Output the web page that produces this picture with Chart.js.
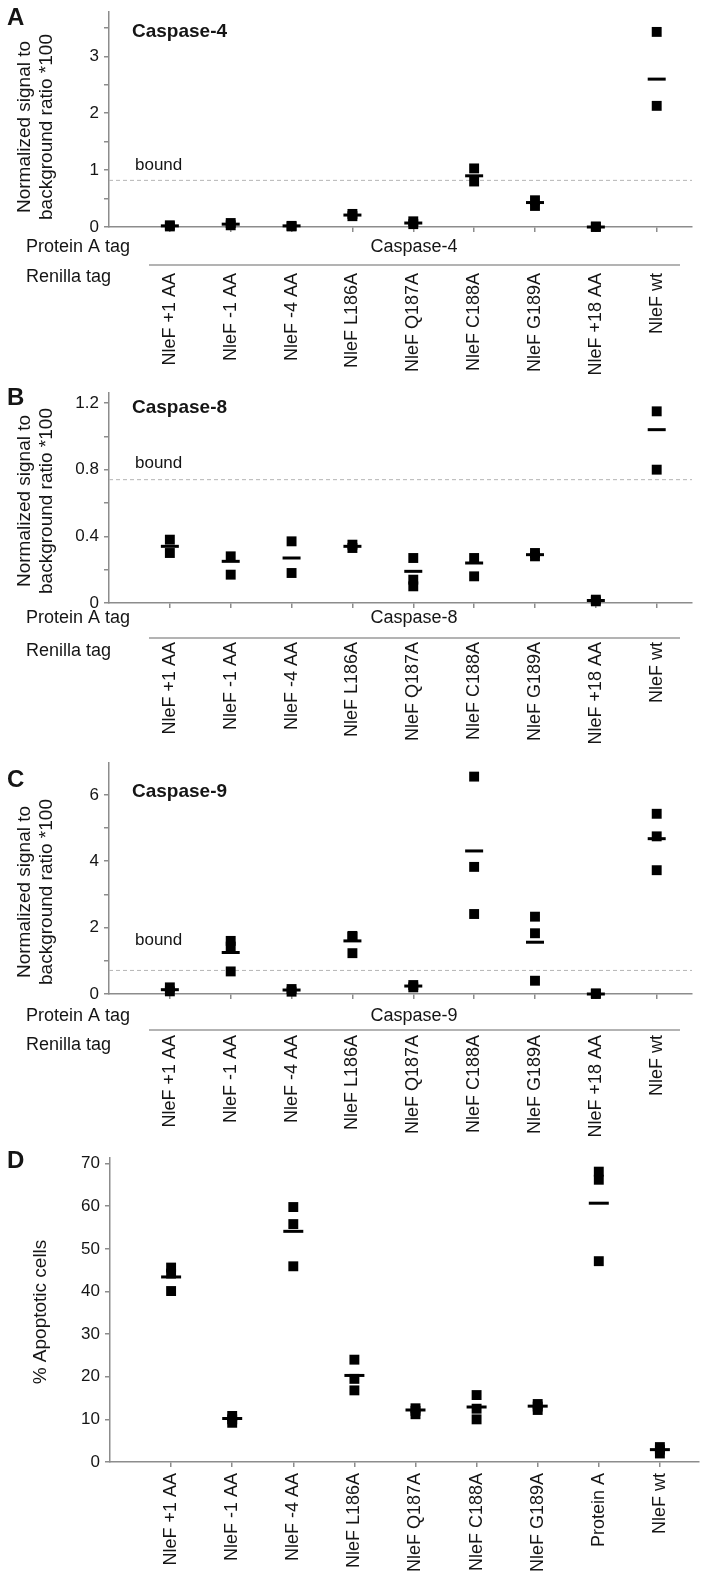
<!DOCTYPE html>
<html>
<head>
<meta charset="utf-8">
<script src="https://cdn.jsdelivr.net/npm/chart.js@4.4.1/dist/chart.umd.min.js"></script>
<style>
  html, body { margin: 0; padding: 0; background: #fff; }
  #wrap { position: relative; width: 712px; height: 1580px; }
  canvas { position: absolute; left: 0; }
</style>
</head>
<body>
<div id="wrap">
  <canvas id="panelA" width="712" height="380" style="top:0px"></canvas>
  <canvas id="panelB" width="712" height="370" style="top:380px"></canvas>
  <canvas id="panelC" width="712" height="395" style="top:750px"></canvas>
  <canvas id="panelD" width="712" height="435" style="top:1145px"></canvas>
</div>
<script>
const FONT = "'Liberation Sans', Arial, sans-serif";
const AXIS_GREY = "#8c8c8c";
const INK = "#151515";

const renillaLabels = ["NleF +1 AA", "NleF -1 AA", "NleF -4 AA", "NleF L186A", "NleF Q187A",
  "NleF C188A", "NleF G189A", "NleF +18 AA", "NleF wt"];
const apoptosisLabels = ["NleF +1 AA", "NleF -1 AA", "NleF -4 AA", "NleF L186A", "NleF Q187A",
  "NleF C188A", "NleF G189A", "Protein A", "NleF wt"];

// A - caspase-4
const casp4Rep1 = [0.03, 0.07, 0.02, 0.23, 0.10, 1.03, 0.47, 0.01, 3.43];
const casp4Rep2 = [0.01, 0.03, 0.01, 0.19, 0.05, 0.80, 0.37, 0.00, 2.13];
const casp4Mean = [0.02, 0.05, 0.02, 0.21, 0.07, 0.90, 0.43, 0.00, 2.60];
const casp4Bound = 0.82;
const casp4Ticks = [0, 0.5, 1, 1.5, 2, 2.5, 3, 3.5];
const casp4TickLabels = ["0", "", "1", "", "2", "", "3", ""];

// B - caspase-8
const casp8Rep1 = [0.38, 0.28, 0.37, 0.35, 0.27, 0.27, 0.30, 0.02, 1.15];
const casp8Rep2 = [0.30, 0.17, 0.18, 0.33, 0.14, 0.16, 0.28, 0.01, 0.80];
const casp8Rep3 = [null, null, null, null, 0.10, null, null, null, null];
const casp8Mean = [0.34, 0.25, 0.27, 0.34, 0.19, 0.24, 0.29, 0.015, 1.04];
const casp8Bound = 0.74;
const casp8Ticks = [0, 0.2, 0.4, 0.6, 0.8, 1.0, 1.2];
const casp8TickLabels = ["0", "", "0.4", "", "0.8", "", "1.2"];

// C - caspase-9
const casp9Rep1 = [0.20, 1.60, 0.15, 1.75, 0.27, 6.55, 2.33, 0.02, 5.43];
const casp9Rep2 = [0.08, 1.43, 0.07, 1.72, 0.20, 3.83, 1.83, 0.00, 4.75];
const casp9Rep3 = [null, 0.68, null, 1.23, null, 2.41, 0.40, null, 3.73];
const casp9Mean = [0.13, 1.25, 0.12, 1.60, 0.24, 4.31, 1.56, 0.00, 4.68];
const casp9Bound = 0.71;
const casp9Ticks = [0, 1, 2, 3, 4, 5, 6];
const casp9TickLabels = ["0", "", "2", "", "4", "", "6"];

// D - apoptosis
const apopRep1 = [45.6, 10.8, 59.8, 24.0, 12.6, 15.7, 13.6, 68.1, 3.5];
const apopRep2 = [44.2, 10.0, 55.8, 19.5, 12.0, 12.5, 13.0, 66.2, 2.9];
const apopRep3 = [40.1, 9.2, 45.9, 16.8, 11.2, 10.0, 12.2, 47.1, 2.0];
const apopMean = [43.4, 10.2, 54.1, 20.3, 12.2, 12.9, 13.1, 60.7, 2.9];
const apopTicks = [0, 10, 20, 30, 40, 50, 60, 70];
const apopTickLabels = ["0", "10", "20", "30", "40", "50", "60", "70"];

Chart.defaults.font.family = FONT;
Chart.defaults.color = INK;

function toPoints(values) {
  const pts = [];
  values.forEach((v, i) => { if (v !== null) pts.push({ x: i + 1, y: v }); });
  return pts;
}

// letters, titles, axis title and the tag rows
const panelText = {
  id: "panelText",
  afterDraw(chart, args, o) {
    const ctx = chart.ctx;
    const ca = chart.chartArea;
    ctx.save();
    ctx.fillStyle = INK;
    ctx.textBaseline = "alphabetic";
    ctx.textAlign = "left";
    ctx.font = "bold 24px " + FONT;
    ctx.fillText(o.letter, 7, o.letterY);
    if (o.title) {
      ctx.font = "bold 19px " + FONT;
      ctx.fillText(o.title, 132, o.titleY);
    }
    if (o.boundY) {
      ctx.font = "17px " + FONT;
      ctx.fillText("bound", 135, o.boundY);
    }
    // rotated y title
    ctx.font = "19px " + FONT;
    ctx.textAlign = "center";
    o.yTitle.forEach((line, i) => {
      ctx.save();
      ctx.translate(o.yTitleX[i], o.yTitleY);
      ctx.rotate(-Math.PI / 2);
      ctx.fillText(line, 0, 0);
      ctx.restore();
    });
    if (o.tag) {
      const base = ca.bottom;
      ctx.font = "18px " + FONT;
      ctx.textBaseline = "middle";
      ctx.textAlign = "left";
      ctx.fillText("Protein A tag", 26, base + o.tag.protein);
      ctx.fillText("Renilla tag", 26, base + o.tag.renilla);
      ctx.textAlign = "center";
      ctx.fillText(o.tag.name, 414, base + o.tag.protein);
      ctx.strokeStyle = "#9a9a9a";
      ctx.lineWidth = 1.5;
      ctx.beginPath();
      ctx.moveTo(149, base + o.tag.line);
      ctx.lineTo(680, base + o.tag.line);
      ctx.stroke();
    }
    ctx.restore();
  }
};

function buildPanel(id, p) {
  const canvas = document.getElementById(id);
  const H = canvas.height;
  const datasets = [{
    data: toPoints(p.mean),
    pointStyle: "line",
    pointRadius: p.meanRadius,
    pointBorderColor: "#000",
    pointBorderWidth: 3,
    order: 0,
    clip: false
  }];
  p.reps.forEach(rep => datasets.push({
    data: toPoints(rep),
    pointStyle: "rect",
    pointRadius: 7,
    pointBackgroundColor: "#000",
    pointBorderWidth: 0,
    order: 1,
    clip: false
  }));
  if (p.bound !== undefined) {
    datasets.push({
      data: [{ x: 0, y: p.bound }, { x: p.xMax, y: p.bound }],
      showLine: true,
      borderColor: "#b5b5b5",
      borderWidth: 1,
      borderDash: [4, 3],
      pointRadius: 0,
      order: 2
    });
  }
  const grid = { drawOnChartArea: false, drawTicks: true, tickLength: 5, color: AXIS_GREY, lineWidth: 1.5 };
  const border = { display: true, color: AXIS_GREY, width: 1.5 };

  return new Chart(canvas, {
    type: "scatter",
    data: { datasets },
    plugins: [panelText],
    options: {
      responsive: false,
      animation: false,
      devicePixelRatio: 1,
      events: [],
      layout: { padding: { top: p.area.top, right: 712 - p.area.right, left: 0, bottom: 0 } },
      plugins: {
        legend: { display: false },
        tooltip: { enabled: false },
        panelText: p.text
      },
      scales: {
        x: {
          type: "linear",
          min: 0,
          max: p.xMax,
          afterBuildTicks: s => { s.ticks = p.labels.map((_, i) => ({ value: i + 1 })); },
          afterFit: s => { s.height = H - p.area.bottom; s.paddingLeft = 0; s.paddingRight = 0; },
          ticks: {
            autoSkip: false,
            minRotation: 90,
            maxRotation: 90,
            padding: p.labelOffset - 5,
            font: { size: 18 },
            color: INK,
            callback: (v, i) => p.labels[i]
          },
          grid,
          border
        },
        y: {
          type: "linear",
          min: 0,
          max: p.yMax,
          afterBuildTicks: s => { s.ticks = p.yTicks.map(v => ({ value: v })); },
          afterFit: s => { s.width = p.area.left; s.paddingTop = 0; s.paddingBottom = 0; },
          ticks: {
            padding: 5,
            font: { size: 17 },
            color: INK,
            callback: (v, i) => p.yTickLabels[i]
          },
          grid,
          border
        }
      }
    }
  });
}

const ratioTitle = ["Normalized signal to", "background ratio *100"];

buildPanel("panelA", {
  labels: renillaLabels,
  reps: [casp4Rep1, casp4Rep2],
  mean: casp4Mean,
  meanRadius: 9,
  bound: casp4Bound,
  yMax: 3.78, xMax: 9.58,
  yTicks: casp4Ticks, yTickLabels: casp4TickLabels,
  area: { top: 7, bottom: 227, left: 109, right: 692 },
  labelOffset: 46,
  text: {
    letter: "A", letterY: 25, title: "Caspase-4", titleY: 37, boundY: 170,
    yTitle: ratioTitle, yTitleX: [30, 52], yTitleY: 127,
    tag: { name: "Caspase-4", protein: 20, line: 38, renilla: 50 }
  }
});

buildPanel("panelB", {
  labels: renillaLabels,
  reps: [casp8Rep1, casp8Rep2, casp8Rep3],
  mean: casp8Mean,
  meanRadius: 9,
  bound: casp8Bound,
  yMax: 1.26, xMax: 9.58,
  yTicks: casp8Ticks, yTickLabels: casp8TickLabels,
  area: { top: 13, bottom: 223, left: 109, right: 692 },
  labelOffset: 39,
  text: {
    letter: "B", letterY: 25, title: "Caspase-8", titleY: 33, boundY: 88,
    yTitle: ratioTitle, yTitleX: [30, 52], yTitleY: 121,
    tag: { name: "Caspase-8", protein: 15, line: 35, renilla: 48 }
  }
});

buildPanel("panelC", {
  labels: renillaLabels,
  reps: [casp9Rep1, casp9Rep2, casp9Rep3],
  mean: casp9Mean,
  meanRadius: 9,
  bound: casp9Bound,
  yMax: 6.96, xMax: 9.58,
  yTicks: casp9Ticks, yTickLabels: casp9TickLabels,
  area: { top: 13, bottom: 244, left: 109, right: 692 },
  labelOffset: 41,
  text: {
    letter: "C", letterY: 37, title: "Caspase-9", titleY: 47, boundY: 195,
    yTitle: ratioTitle, yTitleX: [30, 52], yTitleY: 142,
    tag: { name: "Caspase-9", protein: 22, line: 36, renilla: 51 }
  }
});

buildPanel("panelD", {
  labels: apoptosisLabels,
  reps: [apopRep1, apopRep2, apopRep3],
  mean: apopMean,
  meanRadius: 10,
  yMax: 71.3, xMax: 9.64,
  yTicks: apopTicks, yTickLabels: apopTickLabels,
  area: { top: 10, bottom: 317, left: 110, right: 702 },
  labelOffset: 11,
  text: {
    letter: "D", letterY: 23,
    yTitle: ["% Apoptotic cells"], yTitleX: [46], yTitleY: 167
  }
});
</script>
</body>
</html>
